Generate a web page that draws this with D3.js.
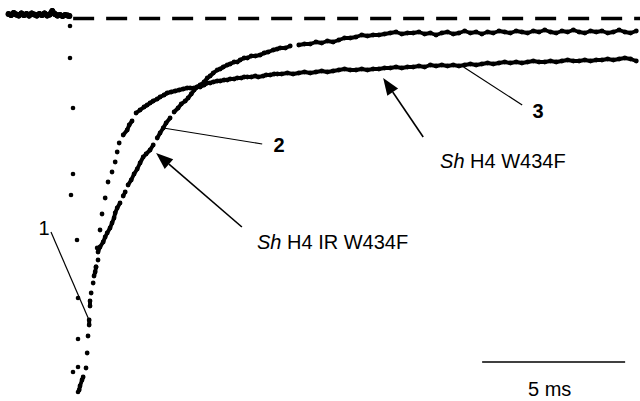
<!DOCTYPE html>
<html>
<head>
<meta charset="utf-8">
<script src="https://cdn.jsdelivr.net/npm/d3@7/dist/d3.min.js"></script>
<style>
  html, body { margin: 0; padding: 0; background: #fff; }
  svg { display: block; }
  text { font-family: "Liberation Sans", Arial, sans-serif; fill: #000; }
</style>
</head>
<body>
<svg id="chart" width="640" height="401"></svg>
<script>
// ---- Data: time (ms) and current (nA) ----
const baseline = [
  [-2.15,0.045],[-2.06,0.035],[-1.97,0.055],[-1.88,0.040],[-1.79,0.030],[-1.70,0.050],
  [-1.61,0.035],[-1.52,0.045],[-1.43,0.030],[-1.34,0.050],[-1.25,0.040],[-1.16,0.030],
  [-1.07,0.045],[-0.98,0.035],[-0.89,0.050],[-0.80,0.030],[-0.71,0.040],[-0.62,0.075],
  [-0.53,0.045],[-0.44,0.030],[-0.35,0.035],[-0.26,0.025],[-0.17,0.035],[-0.08,0.030],[-0.02,0.025]
];
const falling = [
  [0.00,-0.075],[0.00,-0.395],[0.105,-0.895],[0.105,-1.555],[0.035,-1.765],[0.245,-2.215],
  [0.28,-2.795],[0.28,-3.205],[0.105,-3.535],[0.28,-3.485],[0.28,-3.735]
];
// Sh H4 W434F (fast recovery, lower plateau)
const traceW434F = [
  [0.91,-2.485],[0.95,-2.295],[1.05,-2.115],[1.12,-1.955],[1.23,-1.795],[1.33,-1.635],
  [1.47,-1.535],[1.58,-1.435],[1.65,-1.335],[1.72,-1.245],[1.86,-1.165],[2.00,-1.115],
  [2.07,-1.065],[2.17,-1.025],[2.31,-0.945],[2.45,-0.915],[2.59,-0.885],[2.70,-0.865],
  [2.80,-0.845],[2.91,-0.825],[3.05,-0.805],[3.15,-0.785],[3.29,-0.765],[3.40,-0.745],
  [3.54,-0.735],[3.68,-0.725],[3.82,-0.715],[3.96,-0.705],[4.10,-0.695],[4.20,-0.695],
  [4.34,-0.695],[4.45,-0.685],[4.55,-0.685],[4.69,-0.665],[4.80,-0.645],[4.90,-0.645],
  [5.01,-0.635],[5.15,-0.625],[5.25,-0.625],[5.39,-0.615],[5.50,-0.615],[5.60,-0.605],
  [5.74,-0.605],[5.85,-0.595],[5.99,-0.595],[6.09,-0.585],[6.20,-0.585],[6.34,-0.585],
  [6.48,-0.575],[6.58,-0.585],[6.76,-0.575],[6.86,-0.565],[7.00,-0.565],[7.14,-0.555],
  [7.25,-0.555],[7.4,-0.555],[7.6,-0.545],[7.8,-0.555],[8.0,-0.545],[8.2,-0.535],
  [8.4,-0.545],[8.6,-0.535],[8.8,-0.525],[9.0,-0.535],[9.2,-0.525],[9.4,-0.515],
  [9.6,-0.505],[9.8,-0.515],[10.0,-0.515],[10.2,-0.505],[10.4,-0.515],[10.6,-0.505],
  [10.8,-0.505],[11.0,-0.495],[11.2,-0.495],[11.4,-0.485],[11.6,-0.495],[11.8,-0.485],
  [12.0,-0.485],[12.2,-0.475],[12.4,-0.485],[12.6,-0.465],[12.8,-0.475],[13.0,-0.465],
  [13.2,-0.475],[13.4,-0.465],[13.6,-0.475],[13.8,-0.465],[14.0,-0.455],[14.2,-0.465],
  [14.4,-0.455],[14.6,-0.445],[14.8,-0.455],[15.0,-0.445],[15.2,-0.435],[15.4,-0.445],
  [15.6,-0.435],[15.8,-0.445],[16.0,-0.435],[16.2,-0.425],[16.4,-0.435],[16.6,-0.435],
  [16.8,-0.425],[17.0,-0.435],[17.2,-0.425],[17.4,-0.415],[17.6,-0.425],[17.8,-0.425],
  [18.0,-0.415],[18.2,-0.425],[18.4,-0.415],[18.6,-0.415],[18.8,-0.405],[19.0,-0.415],
  [19.2,-0.405],[19.4,-0.395],[19.6,-0.405],[19.8,-0.425]
];
// Sh H4 IR W434F (slow recovery, higher plateau)
const traceIRW434F = [
  [0.32,-3.715],[0.35,-3.675],[0.42,-3.615],[0.46,-3.585],[0.56,-3.495],[0.60,-3.345],
  [0.63,-3.175],[0.67,-3.065],[0.67,-3.015],[0.70,-2.875],[0.70,-2.825],[0.74,-2.745],
  [0.81,-2.645],[0.84,-2.575],[0.88,-2.535],[0.91,-2.485],[0.98,-2.415],[0.98,-2.335],
  [1.05,-2.285],[1.16,-2.235],[1.23,-2.185],[1.30,-2.145],[1.40,-2.095],[1.47,-2.045],
  [1.54,-1.995],[1.58,-1.945],[1.65,-1.895],[1.75,-1.845],[1.86,-1.775],[1.93,-1.735],
  [2.03,-1.665],[2.14,-1.615],[2.24,-1.555],[2.35,-1.505],[2.45,-1.445],[2.56,-1.385],
  [2.66,-1.355],[2.80,-1.315],[2.91,-1.265],[3.05,-1.195],[3.15,-1.145],[3.26,-1.095],
  [3.36,-1.045],[3.50,-0.995],[3.64,-0.935],[3.78,-0.895],[3.89,-0.855],[4.03,-0.825],
  [4.13,-0.795],[4.24,-0.755],[4.34,-0.715],[4.45,-0.685],[4.55,-0.665],[4.69,-0.635],
  [4.80,-0.595],[4.90,-0.575],[5.01,-0.545],[5.15,-0.515],[5.25,-0.505],[5.36,-0.485],
  [5.50,-0.465],[5.60,-0.455],[5.74,-0.435],[5.85,-0.435],[5.95,-0.415],[6.09,-0.395],
  [6.20,-0.395],[6.34,-0.375],[6.48,-0.375],[6.65,-0.365],[6.79,-0.345],[6.93,-0.335],
  [7.11,-0.315],[7.25,-0.305],[7.35,-0.295],[7.53,-0.295],[7.70,-0.275],
  [8.0,-0.265],[8.2,-0.255],[8.4,-0.255],[8.6,-0.235],[8.8,-0.245],[9.0,-0.225],
  [9.2,-0.235],[9.4,-0.215],[9.6,-0.195],[9.8,-0.195],[10.0,-0.185],[10.2,-0.165],
  [10.4,-0.175],[10.6,-0.165],[10.8,-0.165],[11.0,-0.155],[11.2,-0.145],[11.4,-0.135],
  [11.6,-0.155],[11.8,-0.145],[12.0,-0.145],[12.2,-0.135],[12.4,-0.155],[12.6,-0.145],
  [12.8,-0.165],[13.0,-0.145],[13.2,-0.135],[13.4,-0.155],[13.6,-0.145],[13.8,-0.125],
  [14.0,-0.145],[14.2,-0.135],[14.4,-0.155],[14.6,-0.135],[14.8,-0.145],[15.0,-0.125],
  [15.2,-0.135],[15.4,-0.145],[15.6,-0.125],[15.8,-0.135],[16.0,-0.145],[16.2,-0.125],
  [16.4,-0.135],[16.6,-0.115],[16.8,-0.135],[17.0,-0.145],[17.2,-0.125],[17.4,-0.135],
  [17.6,-0.115],[17.8,-0.135],[18.0,-0.145],[18.2,-0.125],[18.4,-0.135],[18.6,-0.125],
  [18.8,-0.145],[19.0,-0.135],[19.2,-0.115],[19.4,-0.135],[19.6,-0.145],[19.8,-0.125]
];
const traceLabels = ["Sh H4 W434F", "Sh H4 IR W434F"];
const numberLabels = ["1", "2", "3"];
const scaleBarMs = 5;

// ---- Scales ----
const x = d3.scaleLinear().domain([0, 20]).range([70, 642]);
const y = d3.scaleLinear().domain([0, -3.72]).range([18.5, 390.5]);

const svg = d3.select("#chart");

// Dashed reference line (zero level)
svg.append("line")
  .attr("x1", x(0.11)).attr("x2", 640)
  .attr("y1", y(0)).attr("y2", y(0))
  .attr("stroke", "#000").attr("stroke-width", 3.5)
  .attr("stroke-dasharray", "21,12");

function drawTrace(data, r, sw, thr) {
  const g = svg.append("g");
  for (let k = 1; k < data.length; k++) {
    const x1 = x(data[k-1][0]), y1 = y(data[k-1][1]);
    const x2 = x(data[k][0]), y2 = y(data[k][1]);
    if (Math.hypot(x2 - x1, y2 - y1) < thr) {
      g.append("line").attr("x1", x1).attr("y1", y1).attr("x2", x2).attr("y2", y2)
        .attr("stroke", "#000").attr("stroke-width", sw).attr("stroke-linecap", "round");
    }
  }
  g.selectAll("circle").data(data).join("circle")
    .attr("cx", d => x(d[0])).attr("cy", d => y(d[1])).attr("r", r).attr("fill", "#000");
}

drawTrace(baseline, 2.9, 5.5, 8);
drawTrace(falling, 2.3, 0, 0);
drawTrace(traceW434F, 2.4, 3.9, 7);
drawTrace(traceIRW434F, 2.4, 3.9, 7);

// Leader lines for numbered labels
function leader(t1, i1, t2, i2) {
  svg.append("line").attr("x1", x(t1)).attr("y1", y(i1)).attr("x2", x(t2)).attr("y2", y(i2))
    .attr("stroke", "#000").attr("stroke-width", 1.2);
}
leader(-0.665, -2.135, 0.665, -3.015);
leader(3.26, -1.095, 6.72, -1.255);
leader(13.76, -0.485, 15.81, -0.865);

svg.append("text").attr("x", x(-0.91)).attr("y", y(-2.16)).attr("text-anchor", "middle")
  .attr("font-size", 20).text(numberLabels[0]);
svg.append("text").attr("x", x(7.31)).attr("y", y(-1.33)).attr("text-anchor", "middle")
  .attr("font-size", 20).attr("font-weight", "bold").text(numberLabels[1]);
svg.append("text").attr("x", x(16.37)).attr("y", y(-0.99)).attr("text-anchor", "middle")
  .attr("font-size", 20).attr("font-weight", "bold").text(numberLabels[2]);

// Arrows
function arrow(tTail, iTail, tTip, iTip) {
  const xa = x(tTail), ya = y(iTail), xb = x(tTip), yb = y(iTip);
  const dx = xb - xa, dy = yb - ya, L = Math.hypot(dx, dy);
  const ux = dx / L, uy = dy / L, px = -uy, py = ux;
  const hl = 17, hw = 6.5;
  const bx = xb - ux * hl, by = yb - uy * hl;
  svg.append("line").attr("x1", xa).attr("y1", ya).attr("x2", bx).attr("y2", by)
    .attr("stroke", "#000").attr("stroke-width", 1.6);
  svg.append("polygon")
    .attr("points", [[xb, yb], [bx + px * hw, by + py * hw], [bx - px * hw, by - py * hw]].map(p => p.join(",")).join(" "))
    .attr("fill", "#000");
}
arrow(12.35, -1.185, 10.95, -0.595);
arrow(6.01, -2.085, 3.01, -1.345);

function traceLabel(t, i, label) {
  const parts = label.split(" ");
  const txt = svg.append("text").attr("x", x(t)).attr("y", y(i)).attr("font-size", 20);
  txt.append("tspan").attr("font-style", "italic").text(parts[0]);
  txt.append("tspan").text(" " + parts.slice(1).join(" "));
}
traceLabel(12.94, -1.495, traceLabels[0]);
traceLabel(6.54, -2.305, traceLabels[1]);

// Scale bar
svg.append("line").attr("x1", x(14.41)).attr("x2", x(14.41 + scaleBarMs))
  .attr("y1", y(-3.435)).attr("y2", y(-3.435))
  .attr("stroke", "#000").attr("stroke-width", 1.5);
svg.append("text").attr("x", x(14.41 + scaleBarMs / 2) - 4).attr("y", y(-3.77))
  .attr("text-anchor", "middle").attr("font-size", 20).text(scaleBarMs + " ms");
</script>
</body>
</html>
